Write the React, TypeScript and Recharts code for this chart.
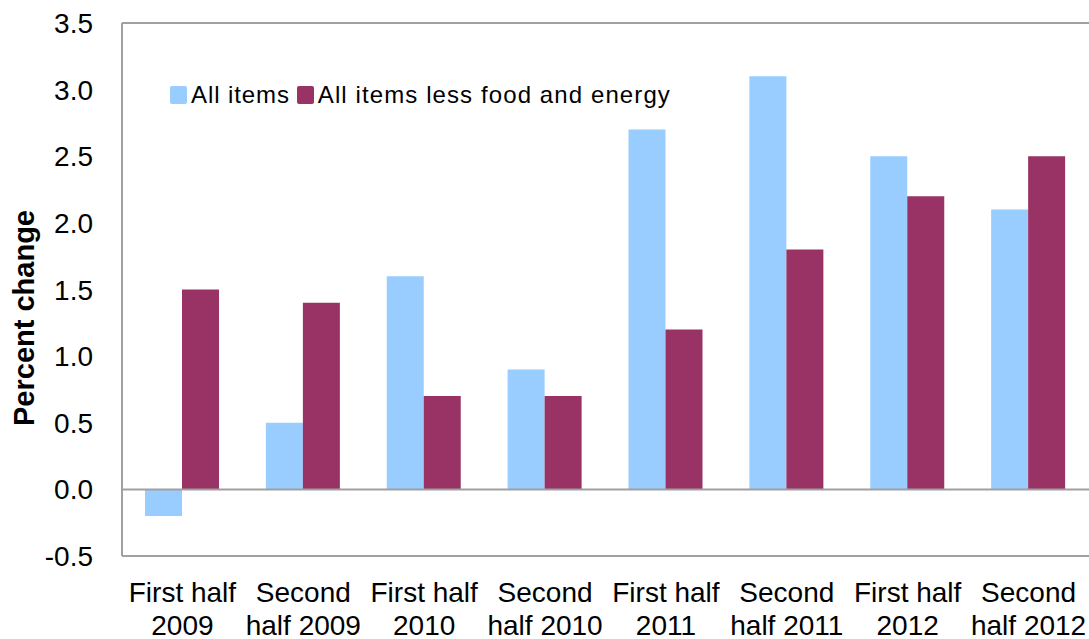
import { BarChart, Bar, XAxis, YAxis, ReferenceLine } from "recharts";

const periodTop = ["First half", "Second", "First half", "Second", "First half", "Second", "First half", "Second"];
const periodBottom = ["2009", "half 2009", "2010", "half 2010", "2011", "half 2011", "2012", "half 2012"];
const allItems = [-0.2, 0.5, 1.6, 0.9, 2.7, 3.1, 2.5, 2.1];
const lessFoodEnergy = [1.5, 1.4, 0.7, 0.7, 1.2, 1.8, 2.2, 2.5];
const yTicks = [-0.5, 0, 0.5, 1, 1.5, 2, 2.5, 3, 3.5];
const seriesNames = ["All items", "All items less food and energy"];
const seriesColors = ["#99ccff", "#993366"];

const data = periodTop.map((top, i) => ({
  period: `${top} ${periodBottom[i]}`,
  top,
  bottom: periodBottom[i],
  all: allItems[i],
  core: lessFoodEnergy[i],
}));

const FONT = "'Liberation Sans', Arial, sans-serif";
const AXIS = "#a0a0a0";

function XTick({ x, y, index }: any) {
  return (
    <text x={x} textAnchor="middle" fontFamily={FONT} fontSize={28} fill="#000">
      <tspan x={x} y={y + 46}>{periodTop[index]}</tspan>
      <tspan x={x} y={y + 79}>{periodBottom[index]}</tspan>
    </text>
  );
}

function YTick({ x, y, payload }: any) {
  return (
    <text
      x={x - 29}
      y={y}
      dy={10}
      textAnchor="end"
      fontFamily={FONT}
      fontSize={28}
      fill="#000"
    >
      {Number(payload.value).toFixed(1)}
    </text>
  );
}

export default function App() {
  return (
    <div style={{ position: "absolute", left: 0, top: 0, width: 1089, height: 639, background: "#fff" }}>
      <BarChart
        width={1089}
        height={639}
        data={data}
        margin={{ top: 23, right: 0, bottom: 0, left: 0 }}
        barGap={0}
      >
        <XAxis
          dataKey="period"
          height={83}
          interval={0}
          tickLine={false}
          tickSize={0}
          tickMargin={0}
          axisLine={{ stroke: AXIS, strokeWidth: 2 }}
          tick={<XTick />}
        />
        <YAxis
          width={122}
          domain={[-0.5, 3.5]}
          ticks={yTicks}
          interval={0}
          tickLine={false}
          tickSize={0}
          tickMargin={0}
          axisLine={{ stroke: AXIS, strokeWidth: 2 }}
          tick={<YTick />}
          label={{
            content: () => (
              <text
                x={24}
                y={318}
                transform="rotate(-90 24 318)"
                textAnchor="middle"
                dominantBaseline="central"
                fontFamily={FONT}
                fontSize={29}
                fontWeight="bold"
                fill="#000"
              >
                Percent change
              </text>
            ),
          }}
        />
        <ReferenceLine y={3.5} stroke={AXIS} strokeWidth={2} />
        <ReferenceLine y={0} stroke={AXIS} strokeWidth={2} />
        <Bar dataKey="all" name={seriesNames[0]} fill={seriesColors[0]} barSize={37} isAnimationActive={false} />
        <Bar dataKey="core" name={seriesNames[1]} fill={seriesColors[1]} barSize={37} isAnimationActive={false} />
      </BarChart>
      <div
        style={{
          position: "absolute",
          left: 170,
          top: 81,
          display: "flex",
          alignItems: "center",
          fontFamily: FONT,
          fontSize: 24,
          color: "#000",
          whiteSpace: "nowrap",
        }}
      >
        {seriesNames.map((name, i) => (
          <div key={name} style={{ display: "flex", alignItems: "center", marginRight: 7 }}>
            <span
              style={{
                width: 17,
                height: 18,
                borderRadius: 2,
                background: seriesColors[i],
                marginRight: 4,
                display: "inline-block",
              }}
            />
            <span style={{ letterSpacing: i === 1 ? 1.1 : 0.9 }}>{name}</span>
          </div>
        ))}
      </div>
    </div>
  );
}
